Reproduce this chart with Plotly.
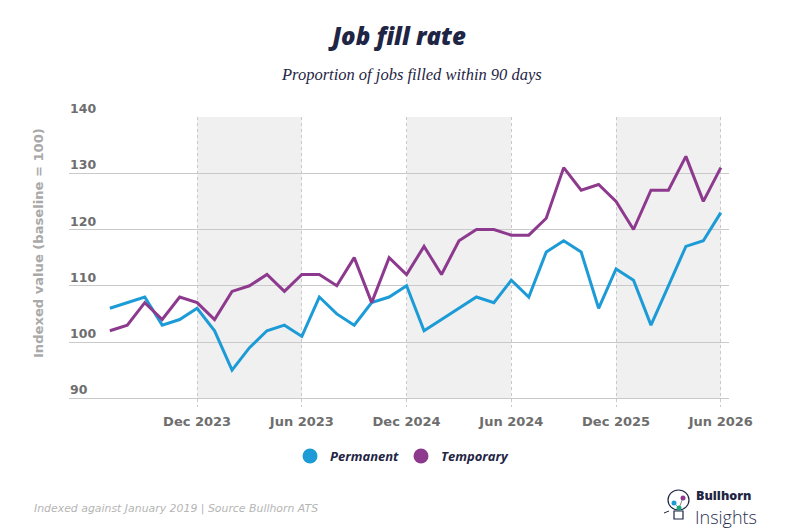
import plotly.graph_objs as go

# monthly index, 36 points
months = list(range(36))
permanent = [106, 107, 108, 103, 104, 106, 102, 95, 99, 102, 103, 101,
             108, 105, 103, 107, 108, 110, 102, 104, 106, 108, 107, 111,
             108, 116, 118, 116, 106, 113, 111, 103, 110, 117, 118, 123]
temporary = [102, 103, 107, 104, 108, 107, 104, 109, 110, 112, 109, 112,
             112, 110, 115, 107, 115, 112, 117, 112, 118, 120, 120, 119,
             119, 122, 131, 127, 128, 125, 120, 127, 127, 133, 125, 131]

tick_idx = [5, 11, 17, 23, 29, 35]
tick_text = ["Dec 2023", "Jun 2023", "Dec 2024", "Jun 2024", "Dec 2025", "Jun 2026"]
y_ticks = [90, 100, 110, 120, 130, 140]

W, H = 800, 531
L, R, T, B = 69, 71, 117, 124

BLUE = "#1c9bd7"
PURPLE = "#8d3a8e"
NAVY = "#1f2544"
GRID = "#c9c9c9"
X_RANGE = [-2.34, 35.47]
Y_RANGE = [88.45, 140]


def px_x(px):
    return (px - L) / (W - L - R)


def px_y(py):
    return (H - B - py) / (H - T - B)


fig = go.Figure()

fig.add_trace(go.Scatter(x=months, y=permanent, mode="lines", name="Permanent",
                         line=dict(color=BLUE, width=3), showlegend=False))
fig.add_trace(go.Scatter(x=months, y=temporary, mode="lines", name="Temporary",
                         line=dict(color=PURPLE, width=3), showlegend=False))
# legend dots
for nm, col in [("Permanent", BLUE), ("Temporary", PURPLE)]:
    fig.add_trace(go.Scatter(x=[None], y=[None], mode="markers", name=nm,
                             marker=dict(color=col, size=15)))

# grey bands every other half-year
shapes = []
for i in range(0, len(tick_idx), 2):
    x1 = tick_idx[i + 1] if i + 1 < len(tick_idx) else X_RANGE[1]
    shapes.append(dict(type="rect", xref="x", yref="y", x0=tick_idx[i], x1=x1,
                       y0=min(y_ticks), y1=max(y_ticks), fillcolor="#f0f0f0",
                       line=dict(width=0), layer="below"))

# little bulb logo
bulb = [
    dict(type="circle", xref="paper", yref="paper", x0=px_x(668), x1=px_x(689),
         y0=px_y(510), y1=px_y(490), line=dict(color=NAVY, width=1.2)),
    dict(type="rect", xref="paper", yref="paper", x0=px_x(674), x1=px_x(683),
         y0=px_y(519), y1=px_y(511), line=dict(color=NAVY, width=1.2)),
    dict(type="line", xref="paper", yref="paper", x0=px_x(674), x1=px_x(679),
         y0=px_y(503), y1=px_y(508), line=dict(color="#888", width=1)),
    dict(type="line", xref="paper", yref="paper", x0=px_x(679), x1=px_x(683),
         y0=px_y(508), y1=px_y(498), line=dict(color="#888", width=1)),
    dict(type="line", xref="paper", yref="paper", x0=px_x(664), x1=px_x(669),
         y0=px_y(513), y1=px_y(511), line=dict(color=NAVY, width=1)),
]
for cx, cy, col in [(674, 503, BLUE), (679, 508, "#1aa67a"), (683, 498, PURPLE)]:
    bulb.append(dict(type="circle", xref="paper", yref="paper",
                     x0=px_x(cx - 2.5), x1=px_x(cx + 2.5), y0=px_y(cy + 2.5), y1=px_y(cy - 2.5),
                     fillcolor=col, line=dict(width=0)))
shapes += bulb

annotations = []
for v in y_ticks:
    annotations.append(dict(xref="paper", yref="y", x=0, y=v, text=str(v),
                            showarrow=False, xanchor="left", yanchor="bottom", yshift=-1,
                            xshift=-1,
                            font=dict(family="DejaVu Sans", size=12.5, color="#6e6e6e", weight=700)))

annotations += [
    dict(xref="paper", yref="paper", x=px_x(411), y=px_y(75), yanchor="middle",
         text="Proportion of jobs filled within 90 days", showarrow=False,
         font=dict(family="Liberation Serif", size=16.5, color=NAVY, style="italic")),
    dict(xref="paper", yref="paper", x=px_x(38), y=px_y(243), yanchor="middle", xanchor="center",
         text="Indexed value (baseline = 100)", textangle=-90, showarrow=False,
         font=dict(family="DejaVu Sans", size=13.1, color="#a9a9a9", weight=700)),
    dict(xref="paper", yref="paper", x=px_x(32), y=px_y(508), xanchor="left", yanchor="middle",
         text="Indexed against January 2019 | Source Bullhorn ATS", showarrow=False,
         font=dict(family="DejaVu Sans", size=10.9, color="#b5b5b5", style="italic")),
    dict(xref="paper", yref="paper", x=px_x(694), y=px_y(495), xanchor="left", yanchor="middle",
         text="Bullhorn", showarrow=False,
         font=dict(family="Open Sans", size=12.5, color=NAVY, weight=800)),
    dict(xref="paper", yref="paper", x=px_x(693), y=px_y(517), xanchor="left", yanchor="middle",
         text="Insights", showarrow=False,
         font=dict(family="Open Sans", size=18, color="#2b3050", weight=300)),
]

fig.update_layout(
    width=W, height=H,
    margin=dict(l=L, r=R, t=T, b=B),
    plot_bgcolor="white", paper_bgcolor="white",
    title=dict(text="Job fill rate", x=0.5, xref="paper", xanchor="center",
               y=1 - 37 / H, yanchor="middle",
               font=dict(family="Open Sans", size=24, color=NAVY, weight=800, style="italic")),
    xaxis=dict(range=X_RANGE, tickvals=tick_idx, ticktext=tick_text,
               showgrid=True, gridcolor=GRID, griddash="3px,3px", gridwidth=1,
               zeroline=False, showline=False,
               ticks="outside", ticklen=2, tickcolor="rgba(0,0,0,0)",
               tickfont=dict(family="DejaVu Sans", size=13, color="#6e6e6e", weight=700)),
    yaxis=dict(range=Y_RANGE, tickvals=y_ticks, showticklabels=False,
               showgrid=True, gridcolor=GRID, gridwidth=1, zeroline=False),
    legend=dict(orientation="h", x=px_x(401), xanchor="center", y=px_y(456), yanchor="middle",
                entrywidth=66, entrywidthmode="pixels",
                font=dict(family="Open Sans", size=13, color=NAVY, weight=700, style="italic")),
    shapes=shapes,
    annotations=annotations,
)

fig.write_html("out.html", config={"displayModeBar": False},
               post_script="document.body.style.margin='0';")
